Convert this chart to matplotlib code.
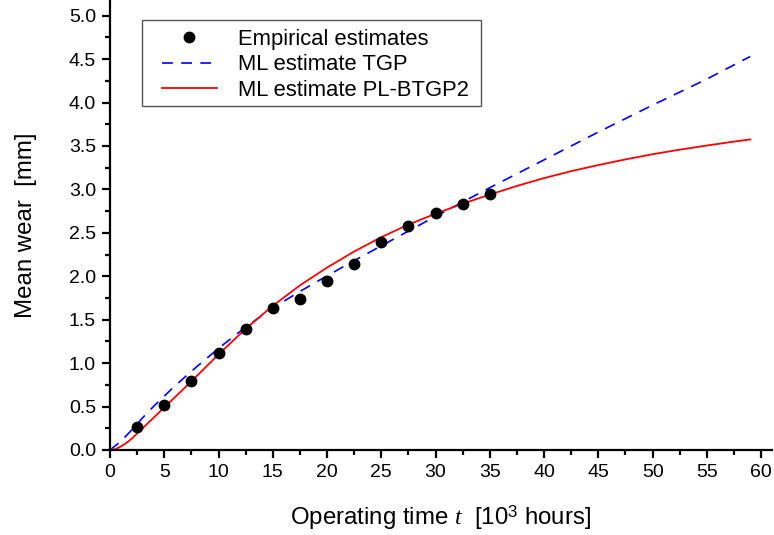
import matplotlib
matplotlib.use("Agg")
import matplotlib.pyplot as plt
from matplotlib.ticker import MultipleLocator, FormatStrFormatter
from matplotlib.patches import Rectangle

plt.rcParams['font.family'] = ['Liberation Sans', 'DejaVu Sans']
plt.rcParams['mathtext.fontset'] = 'custom'
plt.rcParams['mathtext.rm'] = 'Liberation Sans'
plt.rcParams['mathtext.it'] = 'Liberation Serif:italic'

# Empirical mean wear (10^3 hours, mm)
t_emp = [2.5, 5, 7.5, 10, 12.5, 15, 17.5, 20, 22.5, 25, 27.5, 30, 32.5, 35]
wear_emp = [0.26, 0.52, 0.79, 1.12, 1.39, 1.64, 1.74, 1.94, 2.14, 2.40, 2.58, 2.73, 2.83, 2.95]

# ML mean-wear curve, TGP model
t_tgp = [0, 1, 2, 3, 4, 5, 6, 7, 8, 10, 12.5, 15, 17.5, 20, 22.5, 25, 27.5, 30,
         32.5, 35, 40, 45, 50, 55, 59]
wear_tgp = [0.0, 0.10, 0.23, 0.37, 0.50, 0.62, 0.74, 0.85, 0.96, 1.17, 1.415, 1.635,
            1.825, 2.005, 2.18, 2.35, 2.52, 2.69, 2.855, 3.02, 3.34, 3.66, 3.97, 4.27, 4.53]

# ML mean-wear curve, PL-BTGP2 model
t_pl = [0, 0.5, 1, 1.5, 2, 2.5, 3, 4, 5, 6.25, 7.5, 8.75, 10, 12.5, 15, 17.5, 20,
        22.5, 25, 27.5, 30, 32.5, 35, 37.5, 40, 42.5, 45, 47.5, 50, 52.5, 55, 57.5, 59]
wear_pl = [0.0, 0.01, 0.04, 0.08, 0.13, 0.19, 0.25, 0.37, 0.49, 0.64, 0.79, 0.945,
           1.10, 1.395, 1.66, 1.895, 2.10, 2.285, 2.45, 2.595, 2.72, 2.835, 2.94,
           3.04, 3.13, 3.21, 3.28, 3.345, 3.405, 3.457, 3.505, 3.55, 3.575]

fig = plt.figure(figsize=(7.74, 5.35), dpi=100)
ax = fig.add_axes([110 / 774, 85 / 535, 662 / 774, 450 / 535])

ax.plot(t_emp, wear_emp, 'o', color='black', markersize=7.5, label='Empirical estimates', zorder=5)
ax.plot(t_tgp, wear_tgp, color='#0000ff', lw=1.2, dashes=(6.5, 5.0), label='ML estimate TGP')
ax.plot(t_pl, wear_pl, color='#ff0000', lw=1.3, label='ML estimate PL-BTGP2')

ax.set_xlim(0, 61)
ax.set_ylim(0, 5.18)
ax.xaxis.set_major_locator(MultipleLocator(5))
ax.xaxis.set_minor_locator(MultipleLocator(2.5))
ax.yaxis.set_major_locator(MultipleLocator(0.5))
ax.yaxis.set_minor_locator(MultipleLocator(0.25))
ax.yaxis.set_major_formatter(FormatStrFormatter('%.1f'))

for side in ('top', 'right'):
    ax.spines[side].set_visible(False)
for side in ('left', 'bottom'):
    ax.spines[side].set_linewidth(1.6)

ax.tick_params(which='major', direction='out', length=6, width=1.6, labelsize=14, pad=4)
ax.tick_params(which='minor', direction='out', length=3.5, width=1.6)

ax.set_xlabel(r'Operating time $\mathit{t}$  [10$^3$ hours]', fontsize=17.3, labelpad=16)
ax.set_ylabel('Mean wear  [mm]', fontsize=17.3, labelpad=23)

# legend entries without their own frame; a plain box is drawn behind them
leg = ax.legend(loc='upper left', bbox_to_anchor=(52 / 662, 1 - 29 / 450), fontsize=15.8,
                frameon=False, borderpad=0, labelspacing=0.2, handlelength=2.5,
                handletextpad=0.95, borderaxespad=0)
leg.set_zorder(8)
box = Rectangle((142 / 774, 1 - 106 / 535), 339 / 774, 86 / 535, transform=fig.transFigure,
                facecolor='white', edgecolor='#555555', linewidth=1.0, zorder=7,
                clip_on=False)
ax.add_patch(box)
fig.savefig('out.png', dpi=100)
